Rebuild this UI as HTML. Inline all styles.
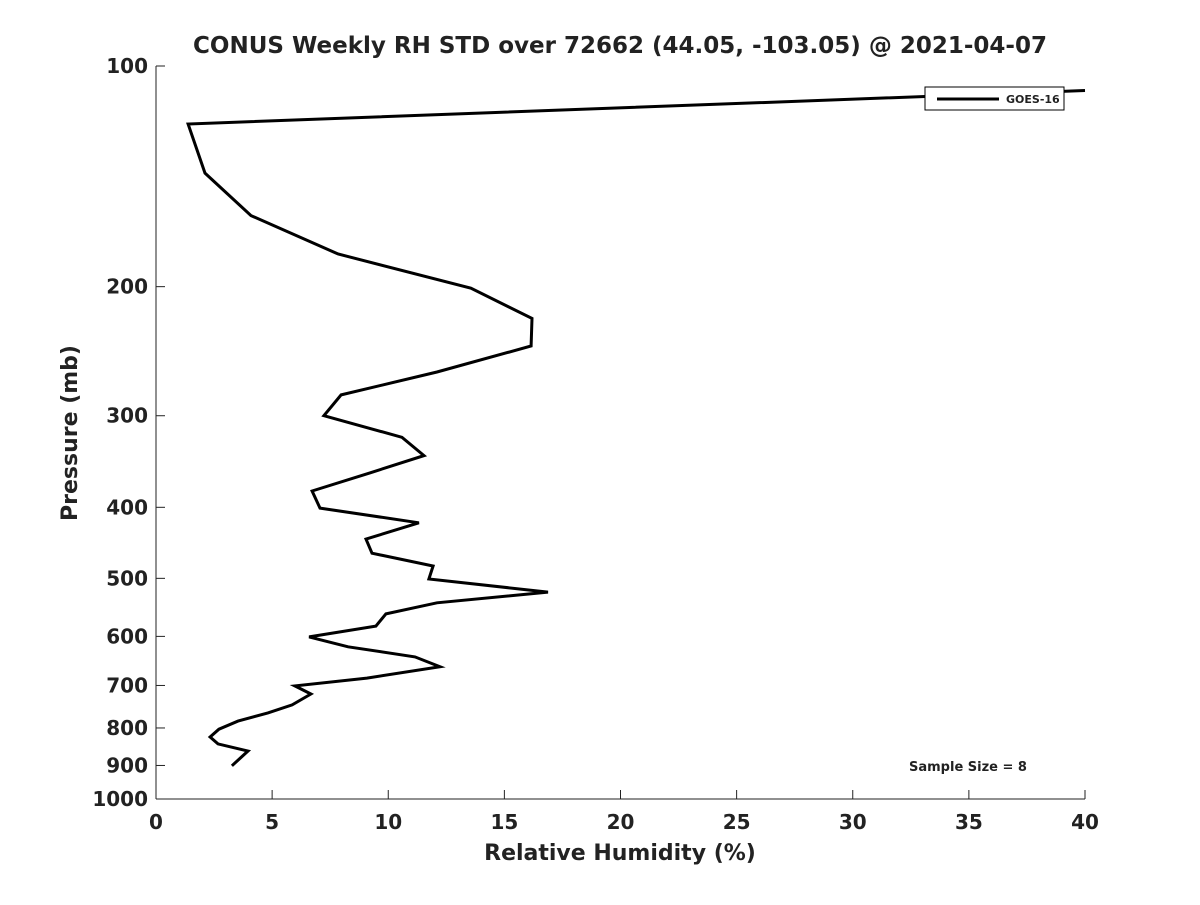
<!DOCTYPE html>
<html><head><meta charset="utf-8"><style>
body{margin:0;background:#fff;width:1200px;height:900px;overflow:hidden}
svg text{font-family:"DejaVu Sans","Liberation Sans",sans-serif;font-weight:bold;fill:#222}
</style></head><body>
<svg id="chart" width="1200" height="900">
<text x="620" y="53" text-anchor="middle" font-size="23">CONUS Weekly RH STD over 72662 (44.05, -103.05) @ 2021-04-07</text>
<g id="axes"></g>
<polyline id="line" fill="none" stroke="#000" stroke-width="3" stroke-linejoin="miter"/>
<g>
<rect x="925" y="87" width="139" height="23" fill="#fff" stroke="#000"/>
<line x1="937" y1="99" x2="999" y2="99" stroke="#000" stroke-width="3"/>
<text x="1006" y="103" font-size="11">GOES-16</text>
</g>
<text x="968" y="771" text-anchor="middle" font-size="13">Sample Size = 8</text>
<text x="620" y="860" text-anchor="middle" font-size="22">Relative Humidity (%)</text>
<text transform="translate(77,433) rotate(-90)" text-anchor="middle" font-size="22">Pressure (mb)</text>
</svg>
<script>
const pressure=[108,120,140,160,180.5,201,221,241,261.5,281,300,321,340,359,380,401,420,442,462,481,501,522,540,559,581,601,620,640,660,684,701,719,744,763,783,803,823,841,860,901];
const rh=[40,1.38,2.11,4.09,7.84,13.56,16.19,16.15,12.1,7.97,7.23,10.59,11.54,9.21,6.72,7.06,11.32,9.04,9.3,11.93,11.75,16.88,12.1,9.9,9.47,6.59,8.27,11.15,12.23,9.08,5.98,6.67,5.86,4.82,3.53,2.71,2.33,2.67,3.96,3.27];
const xTicks=[0,5,10,15,20,25,30,35,40];
const yTicks=[100,200,300,400,500,600,700,800,900,1000];
const L=156,R=1085,T=66,B=799;
const xs=v=>L+(v/40)*(R-L);
const ys=p=>T+(Math.log10(p)-2)*(B-T);
const NS="http://www.w3.org/2000/svg";
const ax=document.getElementById('axes');
function mk(tag,attrs,txt){const e=document.createElementNS(NS,tag);for(const k in attrs)e.setAttribute(k,attrs[k]);if(txt!==undefined)e.textContent=txt;ax.appendChild(e);return e;}
let e=mk('line',{x1:L,y1:T,x2:L,y2:B,stroke:'#222','stroke-width':1});


e=mk('line',{x1:L,y1:B,x2:R,y2:B,stroke:'#222','stroke-width':1});


xTicks.forEach(v=>{const x=xs(v);
 let t=mk('line',{x1:x,y1:B,x2:x,y2:B-9,stroke:'#222'});
 
 
 let l=mk('text',{x:x,y:829,'text-anchor':'middle','font-size':20},String(v));
 
 
});
yTicks.forEach(p=>{const y=ys(p);
 let t=mk('line',{x1:L,y1:y,x2:L+9,y2:y,stroke:'#222'});
 
 
 let l=mk('text',{x:148,y:y+7,'text-anchor':'end','font-size':20},String(p));
 
 
});
document.getElementById('line').setAttribute('points',pressure.map((p,i)=>xs(rh[i]).toFixed(1)+','+ys(p).toFixed(1)).join(' '));
</script>
</body></html>
